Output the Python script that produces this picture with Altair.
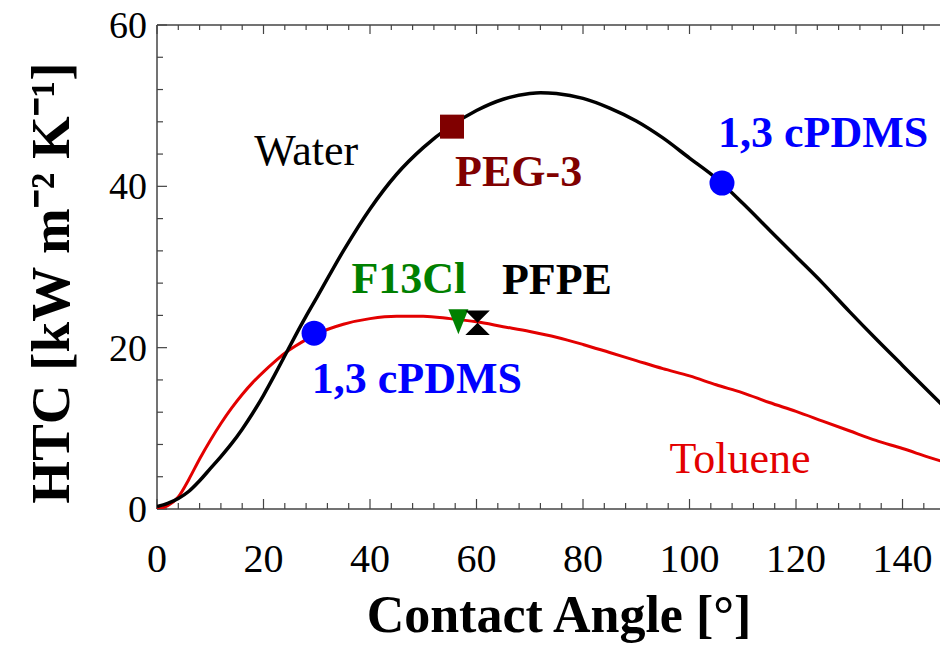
import altair as alt
import pandas as pd

# ---------------- data ----------------
water_x = [0, 2, 4, 6, 8, 10, 12, 14, 16, 18, 20, 22, 24, 26, 28, 30, 35, 40, 45, 50, 55, 60,
           65, 70, 72, 75, 80, 85, 90, 95, 100, 105, 110, 115, 120, 125, 130, 135, 140, 145, 148.4]
water_y = [0.3, 0.7, 1.3, 2.2, 3.5, 5.0, 6.5, 8.1, 9.9, 11.9, 14.1, 16.5, 19.0, 21.5, 23.9, 26.2,
           32.0, 37.2, 41.5, 44.8, 47.4, 49.4, 50.8, 51.5, 51.6, 51.5, 50.9, 49.7, 48.1, 46.0, 43.5,
           41.0, 37.9, 34.6, 31.3, 28.0, 24.5, 21.1, 17.8, 14.5, 12.3]

toluene_x = [0, 2, 4, 6, 8, 10, 12, 14, 16, 18, 20, 22, 24, 26, 28, 30, 35, 40, 45, 50, 55, 60,
             65, 70, 75, 80, 85, 90, 95, 100, 105, 110, 115, 120, 125, 130, 135, 140, 145, 148.4]
toluene_y = [0.0, 0.4, 1.5, 3.7, 6.2, 8.5, 10.6, 12.5, 14.2, 15.7, 17.0, 18.2, 19.3, 20.2, 21.0,
             21.7, 22.9, 23.6, 23.9, 23.9, 23.6, 23.2, 22.6, 22.0, 21.3, 20.4, 19.4, 18.4, 17.4,
             16.5, 15.4, 14.4, 13.2, 12.1, 10.9, 9.7, 8.5, 7.5, 6.4, 5.7]

cpdms_x = [29.5, 106.1]
cpdms_y = [21.8, 40.4]
peg_x = [55.4]
peg_y = [47.4]
f13cl_x = [56.6]
f13cl_y = [23.2]
pfpe_x = [60.2]
pfpe_y = [23.1]

bold_text = ["PEG-3", "1,3 cPDMS", "F13Cl", "PFPE", "1,3 cPDMS"]
bold_x = [67.9, 125.1, 47.3, 75.1, 48.8]
bold_y = [40.1, 44.9, 26.8, 26.6, 14.4]
bold_color = ["#800000", "#0000ff", "#008000", "#000000", "#0000ff"]

reg_text = ["Water", "Toluene"]
reg_x = [28.0, 109.5]
reg_y = [42.7, 4.5]
reg_color = ["#000000", "#e30000"]

x_major = [0, 20, 40, 60, 80, 100, 120, 140]
x_minor = [v for v in range(4, 147, 4) if v % 20 != 0]
y_major = [0, 20, 40, 60]
y_minor = [v for v in range(4, 60, 4) if v % 20 != 0]

x_title = "Contact Angle [°]"
y_title = "HTC [kW m⁻² K⁻¹]"

# ---------------- layout ----------------
W = 783
H = 484
XMAX = 147.04
SERIF = "Liberation Serif"
FRAME = "#444444"

xs = alt.Scale(domain=[0, XMAX], nice=False, zero=False)
ys = alt.Scale(domain=[0, 60], nice=False, zero=False)

water = pd.DataFrame({"x": water_x, "y": water_y})
toluene = pd.DataFrame({"x": toluene_x, "y": toluene_y})
one = pd.DataFrame({"a": [0]})

frame_top = alt.Chart(one).mark_rule(color=FRAME, strokeWidth=1.5).encode(
    x=alt.value(0), x2=alt.value(W), y=alt.value(0))
frame_bottom = alt.Chart(one).mark_rule(color=FRAME, strokeWidth=1.5).encode(
    x=alt.value(0), x2=alt.value(W), y=alt.value(H))
frame_left = alt.Chart(one).mark_rule(color=FRAME, strokeWidth=1.5).encode(
    x=alt.value(0), y=alt.value(0), y2=alt.value(H))


def xticks(vals, y0, y1):
    return alt.Chart(pd.DataFrame({"v": vals})).mark_rule(color=FRAME, strokeWidth=1.2).encode(
        x=alt.X("v:Q", scale=xs, axis=None), y=alt.value(y0), y2=alt.value(y1))


def yticks(vals, x0, x1):
    return alt.Chart(pd.DataFrame({"v": vals})).mark_rule(color=FRAME, strokeWidth=1.2).encode(
        y=alt.Y("v:Q", scale=ys, axis=None), x=alt.value(x0), x2=alt.value(x1))


ticks = [
    xticks(x_major, H, H - 10), xticks(x_minor, H, H - 6),
    xticks(x_major, 0, 9), xticks(x_minor, 0, 5),
    yticks(y_major, 0, 10), yticks(y_minor, 0, 6),
]

# tick labels (text marks positioned through the scales)
x_labels = alt.Chart(pd.DataFrame({"v": x_major})).mark_text(
    font=SERIF, fontSize=40, color="black", align="center", baseline="alphabetic").encode(
    x=alt.X("v:Q", scale=xs, axis=None), y=alt.value(H + 63),
    text=alt.Text("v:Q", format="d"))
y_labels = alt.Chart(pd.DataFrame({"v": y_major})).mark_text(
    font=SERIF, fontSize=38, color="black", align="right", baseline="middle", dy=2).encode(
    y=alt.Y("v:Q", scale=ys, axis=None), x=alt.value(-10),
    text=alt.Text("v:Q", format="d"))

x_title_mark = alt.Chart(pd.DataFrame({"t": [x_title]})).mark_text(
    font=SERIF, fontSize=52, fontWeight="bold", color="black", align="center",
    baseline="alphabetic").encode(x=alt.value(402), y=alt.value(607), text="t:N")
y_title_mark = alt.Chart(pd.DataFrame({"t": [y_title]})).mark_text(
    font=SERIF, fontSize=55, fontWeight="bold", color="black", align="center",
    baseline="middle", angle=270).encode(x=alt.value(-105), y=alt.value(258), text="t:N")

tol_line = alt.Chart(toluene).mark_line(color="#e30000", strokeWidth=3, interpolate="monotone",
                                        clip=True).encode(
    x=alt.X("x:Q", scale=xs, axis=None), y=alt.Y("y:Q", scale=ys, axis=None))
water_line = alt.Chart(water).mark_line(color="black", strokeWidth=3.5, interpolate="monotone",
                                        clip=True).encode(
    x=alt.X("x:Q", scale=xs, axis=None), y=alt.Y("y:Q", scale=ys, axis=None))


def pts(xv, yv, shape, color, size):
    return alt.Chart(pd.DataFrame({"x": xv, "y": yv})).mark_point(
        shape=shape, filled=True, color=color, size=size, opacity=1, strokeWidth=0).encode(
        x=alt.X("x:Q", scale=xs, axis=None), y=alt.Y("y:Q", scale=ys, axis=None))


peg_pts = pts(peg_x, peg_y, "square", "#800000", 576)
cpdms_pts = pts(cpdms_x, cpdms_y, "circle", "#0000ff", 625)
f13_pts = pts(f13cl_x, f13cl_y, "M-0.8,-1L0.8,-1L0,1Z", "#008000", 625)
pfpe_pts = pts(pfpe_x, pfpe_y, "M-1,-1L1,-1L-1,1L1,1Z", "#000000", 600)

bold_df = pd.DataFrame({"t": bold_text, "x": bold_x, "y": bold_y, "c": bold_color})
reg_df = pd.DataFrame({"t": reg_text, "x": reg_x, "y": reg_y, "c": reg_color})

bold_lbl = alt.Chart(bold_df).mark_text(font=SERIF, fontSize=44, fontWeight="bold",
                                        align="center", baseline="alphabetic").encode(
    x=alt.X("x:Q", scale=xs, axis=None), y=alt.Y("y:Q", scale=ys, axis=None),
    text="t:N", color=alt.Color("c:N", scale=None))
reg_lbl = alt.Chart(reg_df).mark_text(font=SERIF, fontSize=44, align="center",
                                      baseline="alphabetic").encode(
    x=alt.X("x:Q", scale=xs, axis=None), y=alt.Y("y:Q", scale=ys, axis=None),
    text="t:N", color=alt.Color("c:N", scale=None))

chart = alt.layer(
    frame_top, frame_bottom, frame_left, *ticks, x_labels, y_labels, x_title_mark, y_title_mark,
    tol_line, water_line, peg_pts, cpdms_pts, f13_pts, pfpe_pts, bold_lbl, reg_lbl
).properties(
    width=W, height=H,
    autosize=alt.AutoSizeParams(type="none"),
    padding={"left": 149, "top": 17, "right": 0, "bottom": 140},
    background="white",
).configure_view(stroke=None)

chart.save("out.html", embed_options={"renderer": "svg", "actions": False})
